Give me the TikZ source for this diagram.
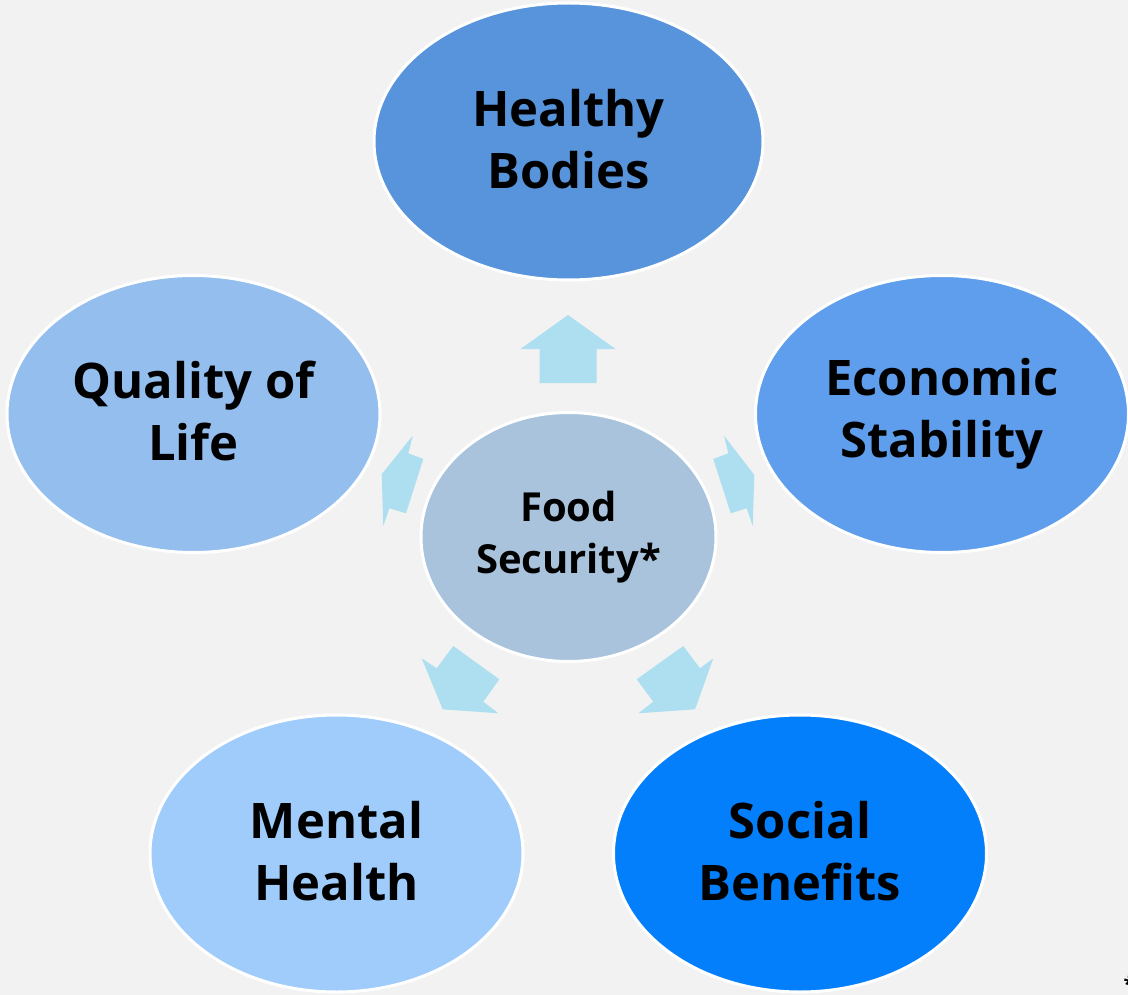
\documentclass[tikz,border=0pt]{standalone}
\usepackage{fontspec}
\setmainfont{Open Sans}
\usetikzlibrary{shapes.geometric}
\definecolor{bgc}{HTML}{F2F2F2}
\definecolor{arrowc}{HTML}{ADDFF0}
\definecolor{hbc}{HTML}{5794DC}
\definecolor{qlc}{HTML}{93BEEE}
\definecolor{esc}{HTML}{5F9EEC}
\definecolor{mhc}{HTML}{A0CCFC}
\definecolor{sbc}{HTML}{047FFC}
\definecolor{fsc}{HTML}{A8C3DB}
\newcommand{\lowpad}{\rule[-6pt]{0pt}{0pt}}
\begin{document}
\begin{tikzpicture}[x=1pt,y=-1pt,
  bubble/.style={ellipse, draw=white, line width=3pt, inner sep=0pt, align=center,
    font=\fontsize{49}{62}\selectfont\bfseries, text=black,
    minimum width=373pt, minimum height=277pt},
  hub/.style={bubble, font=\fontsize{40}{52}\selectfont\bfseries,
    minimum width=295pt, minimum height=249pt},
  blockarrow/.style={fill=arrowc, draw=none}]
\fill[bgc] (0,0) rectangle (1128,995);
\useasboundingbox (0,0) rectangle (1128,995);
% block arrows (drawn beneath the bubbles)
\fill[blockarrow] (568,315) -- (615.5,349) -- (596.5,349) -- (596.5,383) -- (539.5,383) -- (539.5,349) -- (520.5,349) -- cycle;
\fill[blockarrow] (412.7,435.7) -- (408.3,453.3) -- (423.3,459) -- (406,513.3) -- (389.3,508.3) -- (383.3,526) -- (381.7,474.3) -- cycle;
\fill[blockarrow] (724,435.7) -- (728.3,453.3) -- (713.3,459) -- (730.7,513.3) -- (746.7,508.3) -- (752.7,526) -- (754.3,475) -- cycle;
\fill[blockarrow] (453.3,646) -- (499.3,679.3) -- (483.3,701.7) -- (498.3,713.3) -- (442.7,709.3) -- (421.7,658.3) -- (436.7,668.3) -- cycle;
\fill[blockarrow] (683.3,646) -- (636.7,679.3) -- (653.3,701.7) -- (638.3,713.3) -- (695,709.3) -- (713.3,658.3) -- (700,668.3) -- cycle;
% bubbles
\node[bubble, fill=hbc, minimum width=389pt] (hb) at (568.5,141.5) {Healthy\\Bodies\lowpad};
\node[bubble, fill=qlc] (ql) at (193.5,414) {Quality of\\Life\lowpad};
\node[bubble, fill=esc] (es) at (942,414) {Economic\\Stability};
\node[bubble, fill=mhc] (mh) at (336.5,853.5) {Mental\\Health\lowpad};
\node[bubble, fill=sbc] (sb) at (800,853.5) {Social\\Benefits\lowpad};
\node[hub, fill=fsc] (fs) at (568.5,537) {Food\\Security*};
\node[font=\fontsize{20}{20}\selectfont\bfseries, inner sep=0pt] (star) at (1129,984) {*};
\end{tikzpicture}
\end{document}
